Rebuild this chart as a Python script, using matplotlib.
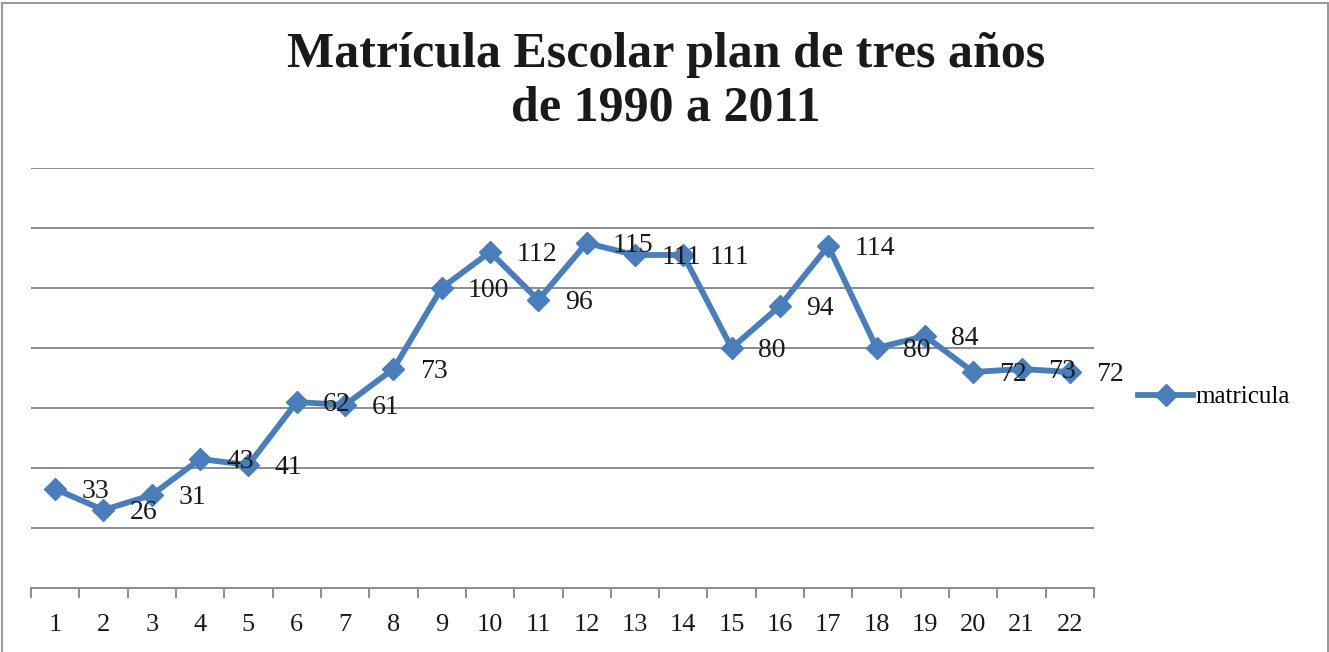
import matplotlib
matplotlib.use("Agg")
import matplotlib.pyplot as plt
from matplotlib.patches import Rectangle
from matplotlib.ticker import FixedLocator

# data
categories = list(range(1, 23))
matricula = [33, 26, 31, 43, 41, 62, 61, 73, 100, 112, 96, 115, 111, 111,
             80, 94, 114, 80, 84, 72, 73, 72]
title = "Matrícula Escolar plan de tres años\nde 1990 a 2011"

plt.rcParams['font.family'] = ['Liberation Serif', 'DejaVu Serif']

W, H = 1329, 652
fig = plt.figure(figsize=(W / 100, H / 100), dpi=100)

# outer chart frame (bottom is cut off in the reference)
fig.patches.append(Rectangle((2 / W, -0.05), 1326 / W, 1.05 - 3 / H,
                             transform=fig.transFigure, fill=False,
                             edgecolor='#9a9a9a', linewidth=1.5))

ax = fig.add_axes([31 / W, (H - 588) / H, (1094 - 31) / W, (588 - 168) / H])

blue = '#4a7ebb'
ax.plot(categories, matricula, color=blue, linewidth=4.2, marker='D',
        markersize=11, label='matricula', zorder=3)

for x, v in zip(categories, matricula):
    ax.annotate(str(v), (x, v), xytext=(19, -2), textcoords='offset points',
                ha='left', va='center', fontsize=20, color='#1a1a1a',
                zorder=4)

ax.set_xlim(0.5, 22.5)
ax.set_ylim(0, 140)
ax.set_yticks(range(0, 141, 20))
ax.yaxis.grid(True, color='#8c8c8c', linewidth=1.4)
ax.tick_params(axis='y', left=False, labelleft=False)

ax.set_xticks(categories)
ax.set_xticklabels([str(c) for c in categories])
ax.xaxis.set_minor_locator(FixedLocator([c - 0.5 for c in categories] + [22.5]))
ax.tick_params(axis='x', which='major', length=0, labelsize=19, pad=19,
               labelcolor='#1a1a1a')
ax.tick_params(axis='x', which='minor', length=7, width=1.4,
               color='#8c8c8c', direction='out')

for side in ['top', 'right', 'left']:
    ax.spines[side].set_visible(False)
ax.spines['bottom'].set_color('#8c8c8c')
ax.spines['bottom'].set_linewidth(1.4)
ax.set_axisbelow(True)

fig.text(666 / W, 1 - 82 / H, title, ha='center', va='center',
         fontsize=36, fontweight='bold', color='#1a1a1a', linespacing=1.2)

fig.legend(loc='center left', bbox_to_anchor=(1128 / W, 1 - 397 / H),
           frameon=False, fontsize=18, handlelength=2.2, handletextpad=0.1,
           borderaxespad=0)

fig.savefig('out.png', dpi=100)
